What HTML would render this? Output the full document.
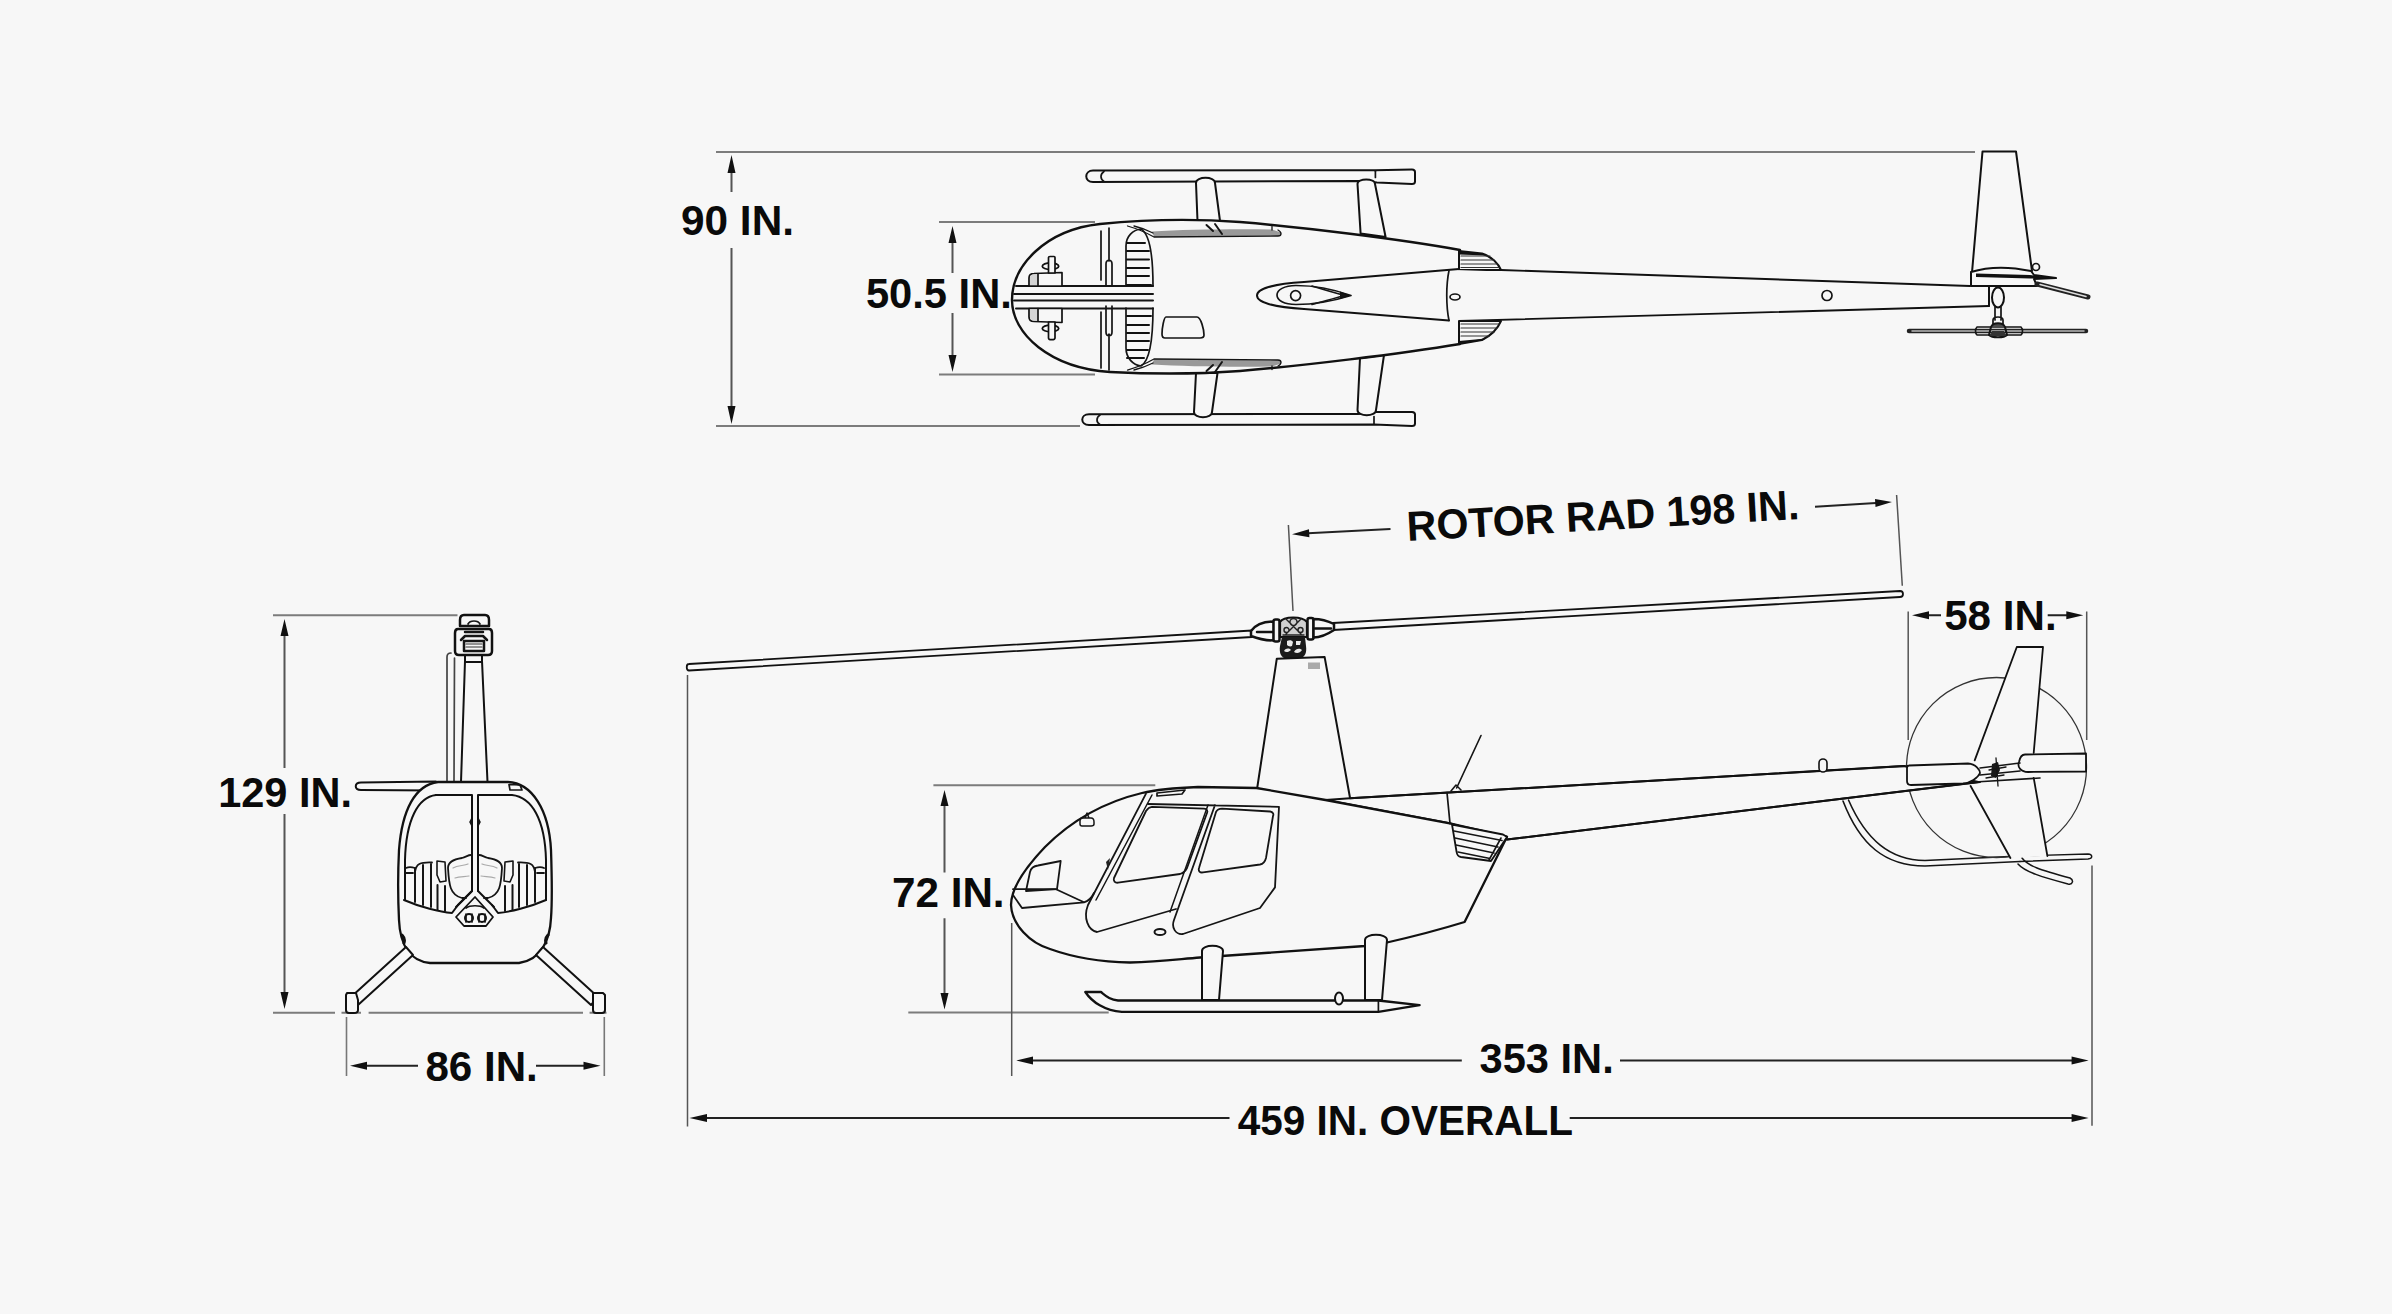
<!DOCTYPE html>
<html><head><meta charset="utf-8"><title>Helicopter dimensions</title>
<style>
html,body{margin:0;padding:0;background:#f7f7f7;width:2392px;height:1314px;overflow:hidden}
svg{display:block}
.d{stroke:#555;stroke-width:2;fill:none}
.dk{stroke:#222;stroke-width:2;fill:none}
.a{fill:#111;stroke:none}
.t{font-family:"Liberation Sans",sans-serif;font-weight:bold;font-size:42px;fill:#0a0a0a}
.l{stroke:#111;stroke-width:2;fill:none;stroke-linejoin:round;stroke-linecap:round}
.lf{stroke:#111;stroke-width:2;fill:#f7f7f7;stroke-linejoin:round;stroke-linecap:round}
.m{stroke:#151515;stroke-width:1.7;fill:none;stroke-linejoin:round;stroke-linecap:round}
.s{stroke:#333;stroke-width:1.2;fill:none;stroke-linecap:round}
</style></head>
<body>
<svg width="2392" height="1314" viewBox="0 0 2392 1314">
<rect width="2392" height="1314" fill="#f7f7f7"/>

<!-- ===== DIMENSIONS ===== -->
<g id="dims">
  <!-- 90 IN -->
  <path class="d" style="stroke:#7c7c7c" d="M716,152H1975 M716,426H1080"/>
  <path class="d" d="M731.5,172V192 M731.5,248V407"/>
  <path class="a" d="M731.5,155L727.5,173L735.5,173Z M731.5,424L727.5,406L735.5,406Z"/>
  <text class="t" x="681.0" y="235.0" textLength="113.0" lengthAdjust="spacingAndGlyphs">90 IN.</text>
  <!-- 50.5 IN -->
  <path class="d" style="stroke:#7c7c7c" d="M939,222H1095 M939,374.5H1095"/>
  <path class="d" d="M952.5,241V273 M952.5,313V356"/>
  <path class="a" d="M952.5,226L948.5,243L956.5,243Z M952.5,372L948.5,355L956.5,355Z"/>
  <text class="t" x="865.9" y="308.2" textLength="146.0" lengthAdjust="spacingAndGlyphs">50.5 IN.</text>

  <!-- 129 IN -->
  <path class="d" style="stroke:#7c7c7c" d="M273,615.3H457.5 M273,1012.7H335 M341.5,1012.7H361 M368.6,1012.7H583 M589.6,1012.7H606.5"/>
  <path class="d" d="M284.5,634V768 M284.5,814V995"/>
  <path class="a" d="M284.5,619L280.5,636L288.5,636Z M284.5,1009L280.5,992L288.5,992Z"/>
  <text class="t" x="218.2" y="806.8" textLength="133.8" lengthAdjust="spacingAndGlyphs">129 IN.</text>
  <!-- 86 IN -->
  <path class="d" style="stroke:#777;stroke-width:1.6" d="M346.5,1017V1076 M604.3,1017V1076"/>
  <path class="dk" d="M365,1065.7H418 M536,1065.7H585"/>
  <path class="a" d="M350,1065.7L367,1061.7L367,1069.7Z M600.5,1065.7L583.5,1061.7L583.5,1069.7Z"/>
  <text class="t" x="425.4" y="1081.2" textLength="112.4" lengthAdjust="spacingAndGlyphs">86 IN.</text>

  <!-- ROTOR RAD -->
  <path class="d" style="stroke-width:1.5" d="M1288.4,525L1293,611 M1896.6,495L1902.3,585.7"/>
  <path class="dk" d="M1308,533.3L1390.5,529 M1815,506.7L1876,503"/>
  <path class="a" d="M1292,534.3L1309,529.3L1309.4,537.3Z M1892,502L1875,499L1875.5,507Z"/>
  <text class="t" transform="translate(1407.5,541) rotate(-3.2)" x="0" y="0" textLength="393" lengthAdjust="spacingAndGlyphs">ROTOR RAD 198 IN.</text>

  <!-- 58 IN -->
  <path class="d" style="stroke-width:1.5" d="M1908.2,611.5V740 M2086.7,611.5V740"/>
  <path class="dk" d="M1927,615.3H1941 M2047.7,615.3H2068"/>
  <path class="a" d="M1912,615.3L1929,611.3L1929,619.3Z M2083.3,615.3L2066.3,611.3L2066.3,619.3Z"/>
  <text class="t" x="1944.2" y="630.3" textLength="112.4" lengthAdjust="spacingAndGlyphs">58 IN.</text>

  <!-- 72 IN -->
  <path class="d" style="stroke:#7c7c7c" d="M933.4,785.3H1155.3 M908.3,1012.6H1108.7"/>
  <path class="d" d="M944.5,804V872.4 M944.5,918.3V995"/>
  <path class="a" d="M944.5,790L940.5,806L948.5,806Z M944.5,1009.4L940.5,993L948.5,993Z"/>
  <text class="t" x="892.0" y="907.0" textLength="112.6" lengthAdjust="spacingAndGlyphs">72 IN.</text>

  <!-- 353 IN -->
  <path class="d" style="stroke-width:1.5" d="M1011.7,923V1076 M2092,865.6V1125.7"/>
  <path class="dk" d="M1031,1060.6H1461.8 M1620,1060.6H2072"/>
  <path class="a" d="M1016.2,1060.6L1033,1056.6L1033,1064.6Z M2088.6,1060.6L2071.6,1056.6L2071.6,1064.6Z"/>
  <text class="t" x="1479.6" y="1073.3" textLength="134.1" lengthAdjust="spacingAndGlyphs">353 IN.</text>

  <!-- 459 IN -->
  <path class="d" style="stroke-width:1.5" d="M687.5,675V1126.5"/>
  <path class="dk" d="M706,1118H1229.5 M1569.7,1118H2072"/>
  <path class="a" d="M689.5,1118L707,1114L707,1122Z M2088.6,1118L2071.6,1114L2071.6,1122Z"/>
  <text class="t" x="1237.8" y="1135.3" textLength="335.1" lengthAdjust="spacingAndGlyphs">459 IN. OVERALL</text>
</g>

<!-- TOPVIEW -->
<g id="top">
  <!-- skids -->
  <path class="lf" d="M1093,170.6L1375,170.2L1412,169.4C1414.5,169.4 1415,170.5 1415,172L1415,181.5C1415,183 1414,184 1412,184L1377,182.6L1358,181L1093,182C1084,182 1084,170.6 1093,170.6Z"/>
  <path class="m" d="M1375.4,171.3V177.5"/>
  <path class="m" d="M1104,171.5C1100,174 1100,179 1104,181.5"/>
  <path class="lf" d="M1089,414.2L1358,414L1374,412L1412,412C1414.5,412 1415,413 1415,414.5L1415,423.5C1415,425 1414,426 1412,426L1374,424.6L1089,425C1080,425 1080,414.2 1089,414.2Z"/>
  <path class="m" d="M1374,416.5V424"/>
  <path class="m" d="M1100,415C1096,417.5 1096,422.5 1100,424.5"/>
  <!-- struts top -->
  <path class="lf" d="M1197.5,221L1196,183C1196,176 1215,176 1215,183L1220,221Z"/>
  <path class="lf" d="M1360.6,233.5L1357.5,184C1357.5,178 1375,178 1375,184L1385.6,237Z"/>
  <!-- struts bottom -->
  <path class="lf" d="M1196,373L1194,412C1194,419 1212,419 1212,412L1217.5,373Z"/>
  <path class="lf" d="M1360,358L1357.5,410C1357.5,417 1376,417 1376,410L1384,355Z"/>

  <!-- body -->
  <path class="lf" style="stroke-width:2.4" d="M1012,300C1012,266 1045,230 1100,224C1150,219 1200,219 1240,222C1300,227 1400,239 1460,250L1460,344C1400,354 1300,366 1240,371C1200,374 1150,374 1110,372C1050,368 1012,334 1012,300Z"/>
  <!-- cowl hatches -->
  <path class="lf" d="M1459,251L1482,253.5C1492,257 1498,263 1501,270L1459,270Z"/>
  <path class="s" d="M1461,256H1490 M1461,260H1494 M1461,264H1497 M1461,267.5H1499"/>
  <path d="M1459,251L1482,253.5L1486,255.5L1459,254.5Z" fill="#111"/>
  <path class="lf" d="M1459,321L1501,321C1498,328 1492,335 1482,340L1459,344Z"/>
  <path class="s" d="M1461,324H1499 M1461,328H1497 M1461,332H1494 M1461,336H1489"/>
  <path d="M1459,344L1482,340.5L1486,338.5L1459,341Z" fill="#111"/>
  <!-- boom top/bottom lines -->
  <path d="M1455,270L1970,286L1989,287L1989,306L1455,321Z" fill="#f7f7f7"/>
  <path class="l" style="stroke-width:1.9" d="M1501,270L1970,286 M1459,321L1989,306"/>
  <!-- mast fairing teardrop -->
  <path class="l" d="M1459,269L1304,282C1272,284 1257,289 1257,295.5C1257,302 1272,307 1304,309L1449,320.5"/>
  <path class="m" d="M1449,270.5C1446,285 1446,306 1449,320.5"/>
  <path class="m" d="M1351,295.5C1330,288 1312,285.5 1296,285.5C1284,285.5 1277,290 1277,295C1277,300.5 1284,304.5 1296,304.5C1312,304.5 1330,302 1351,295.5Z"/>
  <path d="M1351,295.5L1340,291.5L1340,299Z" fill="#111"/>
  <path class="m" d="M1312,286C1325,290 1335,293 1345,295.5C1335,298 1325,301 1312,304.5"/>
  <circle class="m" cx="1295.6" cy="295.6" r="5"/>
  <ellipse class="m" cx="1455" cy="297" rx="5" ry="3"/>
  <circle class="m" cx="1827" cy="295.5" r="5"/>

  <!-- nose interior -->
  <path class="m" style="stroke-width:2" d="M1016,286H1153 M1014,294H1153 M1014,300.5H1153 M1016,308.5H1153"/>
  <path class="lf" style="stroke-width:1.7" d="M1029,286V278C1029,275 1031,273.5 1034,273.5L1062,272.5V286Z"/>
  <path d="M1030,277C1030,275.5 1032,274.5 1034,274.5H1038V285H1030Z" fill="#d4d4d4"/>
  <path class="m" d="M1038,274V286"/>
  <path class="lf" style="stroke-width:1.7" d="M1029,308.5V317C1029,320 1031,321.5 1034,321.5L1062,322.5V308.5Z"/>
  <path d="M1030,318C1030,319.5 1032,320.5 1034,320.5H1038V309.5H1030Z" fill="#d4d4d4"/>
  <path class="m" d="M1038,308.5V321"/>
  <ellipse class="lf" style="stroke-width:1.8" cx="1050.5" cy="266.2" rx="8.2" ry="3.3"/>
  <path class="lf" style="stroke-width:1.7" d="M1048.5,273V257.5C1048.5,256.5 1049,256.5 1050,256.5H1054C1055,256.5 1055,257 1055,257.5V273Z"/>
  <ellipse class="lf" style="stroke-width:1.8" cx="1050.5" cy="328.4" rx="8.2" ry="3.3"/>
  <path class="lf" style="stroke-width:1.7" d="M1048.5,322V338C1048.5,339.5 1049.5,339.7 1051.5,339.7C1053.5,339.7 1055,339.5 1055,338V322Z"/>
  <path class="m" d="M1101,231V280 M1101,312V368 M1109,228V261 M1106,286V264C1106,259 1112,259 1112,264V286 M1106,306V332C1106,337 1112,337 1112,332V306 M1109,334V370"/>
  <!-- hatched windshield panels -->
  <path class="m" d="M1126,285V246C1126,236 1133,230 1141,229C1150,234 1153,255 1153,286"/>
  <path class="s" style="stroke-width:2;stroke:#111" d="M1127,243H1145 M1127,251H1149 M1127,259.5H1149 M1127,268H1149 M1127,276H1149 M1127,285H1151"/>
  <path class="m" d="M1126,308V348C1126,358 1133,365 1141,366C1150,361 1153,340 1153,308"/>
  <path class="s" style="stroke-width:2;stroke:#111" d="M1127,316H1151 M1127,325H1149 M1127,333H1149 M1127,341H1149 M1127,350H1148 M1127,358H1144"/>
  <!-- skylight -->
  <path class="m" d="M1166,317H1197C1201,317 1204,330 1204,335C1204,337 1202,338 1200,338H1165C1163,338 1162,336 1162,334C1162,328 1164,317 1166,317Z"/>
  <!-- door strips -->
  <path d="M1152,231.5C1185,229.5 1230,229 1272,229.5L1281,232.5C1282,235 1280,236 1278,236L1154,237Z" fill="#999"/>
  <path class="m" style="stroke-width:1.3" d="M1127.5,226C1138,229 1147,233 1154,237L1278,236C1282,236 1282,232 1278,230 M1134,226C1142,228 1149,231 1153,233 M1272,226.5V230"/>
  <path class="m" style="stroke-width:2" d="M1206.5,225L1213,231 M1215,224L1222,234"/>
  <path d="M1152,364.5C1185,366.5 1230,367 1272,366.5L1281,363.5C1282,361 1280,360 1278,360L1154,359Z" fill="#999"/>
  <path class="m" style="stroke-width:1.3" d="M1127.5,370C1138,367 1147,363 1154,359L1278,360C1282,360 1282,364 1278,366 M1134,370C1142,368 1149,365 1153,363 M1272,369.5V366"/>
  <path class="m" style="stroke-width:2" d="M1206.5,371L1213,365 M1215,372L1222,362"/>

  <!-- tail fin (top view) -->
  <path class="lf" d="M1982.5,151.5L2016,151.5L2032,271L1971,284Z"/>
  <path class="lf" d="M1971,272C1990,266 2012,267 2031,271L2034,275L2056,278L2034,279L2037,286L1971,286Z"/>
  <path d="M1976,273.5L2030,275L2056,278L2030,278.5L1976,277Z" fill="#111"/>
  <circle class="m" cx="2036" cy="267" r="3.5"/>
  <path class="m" style="stroke-width:5;stroke:#222" d="M2037,284L2088,297"/>
  <path class="s" style="stroke:#ddd;stroke-width:1.5" d="M2040,284.5L2086,296.5"/>
  <path class="l" d="M1989,287V306"/>
  <ellipse class="lf" cx="1998" cy="297.5" rx="6" ry="10"/>
  <path class="m" d="M1995,307V320 M2001,307V320 M1993,320C1993,316 2003,316 2003,320V325H1993Z"/>
  <path class="m" style="stroke-width:4.5;stroke:#222" d="M1909,331H2086"/>
  <path class="s" style="stroke:#bbb;stroke-width:1.5" d="M1912,331H2084"/>
  <path class="m" style="stroke-width:1.6" d="M1977,327C1975,329 1975,333 1977,335 M2021,327C2023,329 2023,333 2021,335 M1977,327H2021 M1977,335H2021"/>
  <path class="m" style="stroke-width:2" d="M1991,327C1993,322 2003,322 2005,327L2007,335C2004,338 1992,338 1989,335Z"/>
  <path d="M1992,331H2004L2006,336H1990Z" fill="#333"/>
</g>

<!-- FRONTVIEW -->
<g id="front">
  <!-- blade edge lines -->
  <path class="m" style="stroke:#444" d="M447,782V657C447,654 449,653 451,653 M454,782L454.5,658"/>
  <!-- mast -->
  <path class="lf" d="M465,661L482,661L487.5,782L461,782Z"/>
  <path class="lf" d="M465,655L482,655L482,662L465,662Z"/>
  <!-- hub -->
  <path class="lf" style="stroke-width:2.5" d="M458,629H489C491,629 492,631 492,633V651C492,654 490,655 488,655H459C456,655 455,653 455,651V633C455,631 456,629 458,629Z"/>
  <path class="m" style="stroke-width:2.5" d="M465,632H483 M465,636H483 M461,640L465,636 M487,640L483,636 M464,641H484V651H464Z"/>
  <path class="s" d="M466,644H482 M466,647H482"/>
  <path class="lf" style="stroke-width:2.5" d="M464,615H485C488,615 489,617 489,620V626H460V620C460,617 461,615 464,615Z"/>
  <path class="m" d="M468,624C470,620 478,620 480,624"/>
  <!-- tail bar -->
  <path class="lf" d="M361,782.5L436,781.5L436,790.5L361,790C354,790 354,782.5 361,782.5Z"/>
  <!-- cabin outer -->
  <path class="lf" style="stroke-width:2.3" d="M438,782L508,782C532,783 549,810 551,850C552,880 552,905 551,918C550,940 541,960 519,963L430,963C410,961 400,945 399,920C398,900 398,870 399,850C402,810 415,785 438,782Z"/>
  <path class="l" d="M402,935C404,937 405,940 404,943 M548,935C546,937 545,940 546,943" style="stroke-width:3"/>
  <!-- inner window frame -->
  <path class="l" d="M436,795H472V891L458,905 M478,891V795H512C532,797 545,820 546,860V900"/>
  <path class="l" d="M436,795C418,797 406,820 405,860V900"/>
  <path class="l" d="M472,891L456,907 M478,891L494,907"/>
  <path class="lf" style="stroke-width:1.8" d="M475,897L493,917L486,926L464,926L456,917Z"/>
  <path class="m" d="M466,908C470,905 480,905 484,908"/>
  <path class="m" d="M509,784.5L520,785L522,790L510,790Z"/>
  <path d="M470,822L472,818L472,826Z M480,822L478,818L478,826Z" fill="#111" stroke="#111" stroke-width="1.5"/>
  <circle cx="469" cy="918" r="4" class="l" style="stroke-width:2"/>
  <circle cx="482" cy="918" r="4" class="l" style="stroke-width:2"/>
  <path class="m" d="M466,914V922 M472,914V922 M479,914V922 M485,914V922"/>
  <!-- panel bottom -->
  <path class="l" d="M404,900C420,907 440,912 452,913L458,905 M546,900C530,907 510,912 498,913L492,905"/>
  <!-- seats hatch -->
  <path class="m" style="stroke-width:2" d="M415,868V902 M423,865V905 M431,864V907 M437.5,885V910 M445,886V911 M535,868V902 M527,865V905 M519,864V907 M512.5,885V910 M505,886V911"/>
  <path class="m" style="stroke-width:1.8" d="M406,868C408,867 412,867 415,868 M406,873H413 M544,868C542,867 538,867 535,868 M544,873H537 M415,872C416,864 420,862 432,862.5 M535,872C534,864 530,862 518,862.5"/>
  <path class="m" style="stroke-width:1.6" d="M437,861L445,862L446,881L440,882L437,875Z M513,861L505,862L504,881L510,882L513,875Z"/>
  <path class="m" style="stroke-width:1.8" d="M448,868C448,862 455,859 462,858C466,857 468,855 471,855 M448,868C449,885 450,895 462,898L466,898 M502,868C502,862 495,859 488,858C484,857 482,855 479,855 M502,868C501,885 500,895 488,898L484,898"/>
  <path class="s" style="stroke:#aaa" d="M453,868C458,865 464,866 468,864 M455,878C460,876 465,877 469,876 M497,868C492,865 486,866 482,864 M495,878C490,876 485,877 481,876"/>
  <!-- skid legs -->
  <path class="lf" d="M406,947L413,955L358,1005L351,997Z"/>
  <path class="lf" d="M543,947L536,955L591,1005L598,997Z"/>
  <path class="lf" d="M347,993H356L358,1000V1010C358,1012 356,1013 354,1013H349C347,1013 346,1012 346,1010V995Z"/>
  <path class="lf" d="M593,993H603L605,995V1010C605,1012 604,1013 602,1013H596C594,1013 593,1012 593,1010Z"/>
</g>

<!-- SIDEVIEW -->
<g id="side">
  <!-- main blade -->
  <path class="lf" style="stroke-width:1.8" d="M689,664L1252,630.5L1252,637L689,670.5C686,670.5 686,664 689,664Z"/>
  <path class="lf" style="stroke-width:1.8" d="M1333,623L1900,591C1904,591 1904,597 1900,597L1333,630Z"/>
  <!-- hub -->
  <path class="lf" style="stroke-width:2.5" d="M1251,631C1256,624 1264,621.5 1274,621.5V640.5C1264,640.5 1256,638 1251,636Z"/>
  <path class="l" style="stroke-width:2.5" d="M1257,632H1273"/>
  <rect class="lf" style="stroke-width:2.5" x="1273.5" y="619.5" width="6" height="22" rx="2"/>
  <path class="lf" style="stroke-width:2.2;fill:#d0d0d0" d="M1280,637V622C1284,616 1302,616 1307,622V637Z"/>
  <path class="s" style="stroke:#222;stroke-width:1.4" d="M1290,622A3.5,3.5 0 1 0 1297,622A3.5,3.5 0 1 0 1290,622 M1284,630A2.5,2.5 0 1 0 1289,630A2.5,2.5 0 1 0 1284,630 M1298,630A2.5,2.5 0 1 0 1303,630A2.5,2.5 0 1 0 1298,630 M1283,635H1304 M1286,619L1301,634 M1301,619L1286,634"/>
  <rect class="lf" style="stroke-width:2.5" x="1307.5" y="618" width="6" height="21.5" rx="2"/>
  <path class="lf" style="stroke-width:2.5" d="M1313.5,619C1322,619 1328,621 1334,624V630C1328,634 1322,637.5 1313.5,637.5Z"/>
  <path class="l" style="stroke-width:2.5" d="M1315,628.5H1331"/>
  <path d="M1282,637H1305L1306,646C1307,653 1305,658 1298,659H1287C1281,658 1279,653 1280,646Z" fill="#1a1a1a"/>
  <path d="M1287,641C1289,640 1292,640 1293,642L1292,646C1290,647 1288,646 1287,645Z M1296,641H1301L1300,645H1296Z M1284,651C1286,648 1289,648 1291,650C1289,652 1286,653 1284,651Z M1294,652C1296,648 1300,648 1302,650C1300,653 1297,654 1294,652Z" fill="#e8e8e8"/>
  <!-- pylon -->
  <path d="M1276.8,658.7L1324.6,656.9L1349.9,797.3L1257.2,788Z" fill="#f7f7f7"/>
  <path class="l" d="M1257.2,788L1276.8,658.7L1324.6,656.9L1349.9,797.3"/>
  <rect x="1308" y="662.5" width="12" height="6.5" fill="#aaa"/>

  <!-- tail skid guard (behind boom) -->
  <path class="m" style="stroke-width:1.6" d="M1843,801C1860,845 1885,866 1925,866L2020,861.5 M1848.5,800C1866,840 1890,860 1925,860.5L2020,856"/>
  <path class="m" style="stroke-width:1.4" d="M2020,856L2088,854C2093,854.5 2093,858.5 2088,859L2020,861.5"/>
  <path class="m" style="stroke-width:1.5" d="M2022,858C2028,866 2040,870 2070,878C2074,880 2073,885 2068,884C2042,877 2025,872 2018,864"/>
  <!-- tail rotor disc -->
  <circle class="s" style="stroke:#333;stroke-width:1.3" cx="1996.5" cy="767.5" r="90"/>
  <!-- lower fin -->
  <path d="M1970.6,786L2010.4,858L2047.4,856L2033.7,777.8Z" fill="#f7f7f7"/>
  <path class="l" style="stroke-width:1.8" d="M1970.6,786L2010.4,858 M2047.4,856L2033.7,777.8"/>
  <!-- upper fin -->
  <path d="M2016.8,647L2043,647L2033.7,753L1974.7,760.4Z" fill="#f7f7f7"/>
  <path class="l" style="stroke-width:1.8" d="M1974.7,760.4L2016.8,647L2043,647L2033.7,753"/>
  <!-- boom -->
  <path class="lf" d="M1350,798.3L1903.5,766L1978.4,782L1507,839.5L1451,823.6L1325.5,800Z"/>
  <path class="l" d="M1350,798.3L1905,766 M1507,839.5L1980,782"/>
  <!-- stab + hub -->
  <path class="lf" style="stroke-width:1.8" d="M1909,765.5L1968,763.5C1976,764 1980,770 1980,773C1978,778 1970,783 1963,783.5L1911,785C1908,785 1907,783 1907,781V768C1907,766 1908,765.5 1909,765.5Z"/>
  <path class="lf" style="stroke-width:1.8" d="M2025,754.5L2086,753.5V771.5L2028,772C2021,772 2017,767 2019,762C2020,757 2022,754.5 2025,754.5Z"/>
  <path class="m" d="M1980,768L2020,763 M1980,775L2020,771 M1975,782L2040,778"/>
  <path d="M1992,764L1998,762L2000,770L1996,778L1991,776Z" fill="#1a1a1a"/>
  <path class="m" style="stroke-width:1.3" d="M1996,758L1998,786 M1989,770L2006,767 M1986,778L2004,775"/>
  <rect class="lf" style="stroke-width:1.6" x="1819" y="759" width="8" height="13" rx="4"/>

  <!-- cabin -->
  <path class="lf" style="stroke-width:2.3" d="M1256.5,788L1198,787C1175,788 1155,790 1142,793C1100,803 1070,822 1045,847C1025,868 1011,888 1011,905C1012,925 1030,943 1050,949C1075,958 1100,962 1130,962.5C1160,962 1180,959 1200,957.5L1365,946L1387,942.5C1420,935 1445,928 1464.6,922L1507,836.7L1451,823.6L1325.5,800Z"/>
  <path class="m" d="M1447,792.6C1448,803 1449,813 1450,823.6"/>
  <!-- antenna -->
  <path class="m" style="stroke-width:1.6" d="M1456.6,788L1481,735.5 M1451,791L1456,785L1461,790"/>
  <!-- cowl vent -->
  <path class="lf" style="stroke-width:1.8" d="M1452,824.5L1503,834.5L1507,837L1491,861L1461,857C1458,856.5 1457,855 1456.6,852Z"/>
  <path class="m" style="stroke-width:1.6" d="M1454,831L1502,840.5 M1455,838L1498,847 M1456,845L1494,853 M1458,852L1490,858.5 M1501,838L1489,860"/>
  <!-- doors -->
  <path class="m" style="stroke-width:1.8" d="M1146,793.7L1088,905C1083,918 1088,930 1097,932L1176,909"/>
  <path class="m" style="stroke-width:1.5" d="M1152,795L1096,900"/>
  <path class="m" style="stroke-width:1.8" d="M1148,804L1279,806.8L1275,887.4L1260,908L1183,934C1176,935 1171,928 1174,920L1215,805"/>
  <path class="m" style="stroke-width:1.5" d="M1208,805L1170,912"/>
  <path class="m" style="stroke-width:1.8" d="M1152,806.8L1204,808.7C1207,809 1208,811 1207,813L1187,868C1185,872 1183,873 1180,874L1118,882.7C1115,883 1113,881 1114,878L1146,811C1148,808 1150,807 1152,806.8Z"/>
  <path class="m" style="stroke-width:1.8" d="M1222,808.7L1270,811.5C1273,812 1274,814 1273,816L1266,858C1265,862 1263,864 1260,864.5L1203,872.4C1200,873 1198,871 1199,868L1216,812C1217,810 1219,808.7 1222,808.7Z"/>
  <path class="m" d="M1157,796L1182,794L1185,790L1157,793Z"/>
  <path d="M1106,862L1110,858L1108,870Z" fill="#222"/>
  <!-- chin window & panel -->
  <path class="m" style="stroke-width:1.8" d="M1038,865.5L1060.7,861L1057,889.2L1026,891L1030,872C1031,868 1034,866 1038,865.5Z"/>
  <path class="m" style="stroke-width:1.8" d="M1013,889.2L1056,889.2L1084,902.3L1022,908L1013,895 M1084,902.3C1089,901 1092,897 1094,893"/>
  <path class="m" style="stroke-width:1.5" d="M1082,818H1091C1093,818 1094,820 1094,822V824C1094,825.5 1093,826 1091,826H1082C1080.5,826 1080,825 1080,824V821C1080,819 1081,818 1082,818Z M1085,818L1087,813L1089,818"/>
  <ellipse class="m" cx="1160" cy="932" rx="5.5" ry="3" style="stroke-width:2"/>
  <!-- skids -->
  <path class="lf" d="M1202,1000V951C1202,944 1223,944 1223,951L1219,1000Z"/>
  <path class="lf" d="M1365,1000V940C1365,933 1387,933 1387,940L1382,1000Z"/>
  <path class="lf" style="stroke-width:2.3" d="M1118,1000.5L1378.4,1000.5L1419.6,1005.2L1378.4,1011.8L1121.8,1011.8C1105,1011 1092,1002 1085.3,992L1101,992C1106,996 1110,1000 1118,1000.5Z"/>
  <path class="m" d="M1378.4,1001V1011"/>
  <ellipse class="lf" style="stroke-width:2" cx="1339" cy="998.5" rx="4" ry="6"/>
</g>

</svg>
</body></html>
